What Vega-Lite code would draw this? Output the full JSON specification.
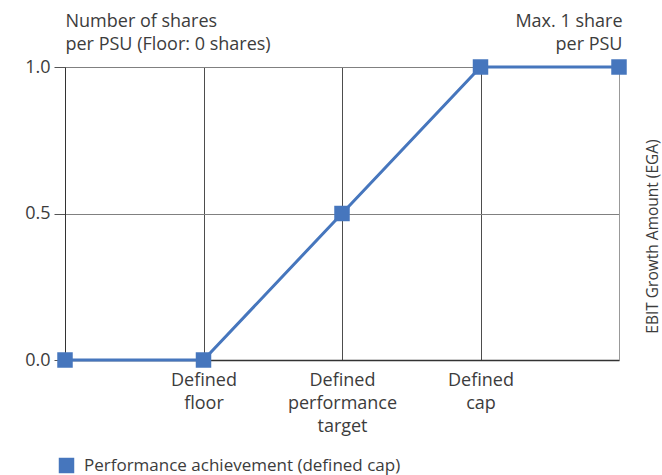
{
  "$schema": "https://vega.github.io/schema/vega-lite/v6.json",
  "autosize": "none",
  "width": 554,
  "height": 293,
  "padding": {"left": 65, "top": 67, "right": 43, "bottom": 115},
  "background": "white",
  "config": {
    "font": "Open Sans",
    "view": {"stroke": null},
    "axis": {"labelFont": "Open Sans", "titleFont": "Open Sans", "labelColor": "#3c3c3c", "titleColor": "#3c3c3c", "labelFontSize": 18, "titleFontSize": 18, "titleFontWeight": "normal"}
  },
  "data": {
    "values": [
      {"x": 0, "y": 0, "series": "Performance achievement (defined cap)"},
      {"x": 1, "y": 0, "series": "Performance achievement (defined cap)"},
      {"x": 2, "y": 0.5, "series": "Performance achievement (defined cap)"},
      {"x": 3, "y": 1, "series": "Performance achievement (defined cap)"},
      {"x": 4, "y": 1, "series": "Performance achievement (defined cap)"}
    ]
  },
  "encoding": {
    "x": {
      "field": "x", "type": "quantitative",
      "scale": {"domain": [0, 4], "nice": false, "zero": false},
      "axis": {
        "values": [0, 1, 2, 3, 4],
        "labelExpr": "datum.value == 1 ? ['Defined', 'floor'] : datum.value == 2 ? ['Defined', 'performance', 'target'] : datum.value == 3 ? ['Defined', 'cap'] : ''",
        "labelLineHeight": 23,
        "labelPadding": 11,
        "labelBaseline": "top",
        "ticks": false,
        "domain": true,
        "domainColor": "#333333",
        "domainWidth": 1.5,
        "grid": true,
        "gridColor": "#4d4d4d",
        "gridWidth": 1,
        "title": "EBIT Growth Amount (EGA)",
        "titleFontSize": 15.5,
        "titleAngle": 270,
        "titleX": 587,
        "titleY": -124,
        "titleAlign": "center",
        "titleBaseline": "middle"
      }
    },
    "y": {
      "field": "y", "type": "quantitative",
      "scale": {"domain": [0, 1], "nice": false},
      "axis": {
        "values": [0, 0.5, 1],
        "format": ".1f",
        "ticks": true,
        "tickSize": 11,
        "tickColor": "#555555",
        "labelPadding": 4,
        "domain": true,
        "domainColor": "#333333",
        "grid": true,
        "gridColor": "#808080",
        "title": ["Number of shares", "per PSU (Floor: 0 shares)"],
        "titleAngle": 0,
        "titleAlign": "left",
        "titleBaseline": "alphabetic",
        "titleLineHeight": 23,
        "titleX": 0,
        "titleY": -41
      }
    }
  },
  "layer": [
    {
      "mark": {"type": "line", "color": "#4676bd", "strokeWidth": 3},
      "encoding": {}
    },
    {
      "mark": {"type": "square", "filled": true, "opacity": 1, "size": 240},
      "encoding": {
        "color": {
          "field": "series", "type": "nominal",
          "scale": {"range": ["#4676bd"]},
          "legend": {
            "title": null,
            "orient": "none",
            "legendX": -7,
            "legendY": 390,
            "symbolType": "square",
            "symbolSize": 240,
            "symbolOpacity": 1,
            "labelFont": "Open Sans",
            "labelFontSize": 17,
            "labelColor": "#3c3c3c",
            "labelOffset": 9,
            "labelLimit": 500
          }
        },
        "y": {
          "field": "y", "type": "quantitative",
          "axis": {
            "orient": "right",
            "labels": false,
            "ticks": false,
            "domain": true,
            "domainColor": "#999999",
            "grid": false,
            "title": ["Max. 1 share", "per PSU"],
            "titleAngle": 0,
            "titleAlign": "right",
            "titleBaseline": "alphabetic",
            "titleLineHeight": 23,
            "titleX": 3,
            "titleY": -41
          }
        }
      }
    }
  ],
  "resolve": {"axis": {"y": "independent"}}
}
